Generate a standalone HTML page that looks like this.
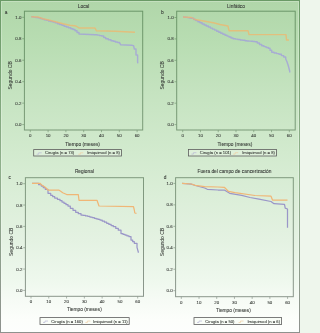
<!DOCTYPE html><html><head><meta charset="utf-8"><style>html,body{margin:0;padding:0;width:300px;height:333px;overflow:hidden;background:#eef6ec}svg{display:block}</style></head><body>
<svg width="300" height="333" viewBox="0 0 300 333" font-family='"Liberation Sans", sans-serif'>
<defs><linearGradient id="bg" x1="0" y1="0" x2="0" y2="1"><stop offset="0" stop-color="rgb(176,214,169)"/><stop offset="0.126" stop-color="rgb(184,221,178)"/><stop offset="0.276" stop-color="rgb(197,227,192)"/><stop offset="0.456" stop-color="rgb(210,234,206)"/><stop offset="0.72" stop-color="rgb(228,242,226)"/><stop offset="0.84" stop-color="rgb(238,248,237)"/><stop offset="0.9" stop-color="rgb(246,251,245)"/><stop offset="0.96" stop-color="rgb(252,254,251)"/><stop offset="1" stop-color="rgb(253,254,253)"/></linearGradient><linearGradient id="fr" gradientUnits="userSpaceOnUse" x1="0" y1="0" x2="0" y2="333"><stop offset="0" stop-color="#699666"/><stop offset="0.45" stop-color="#7c9a7a"/><stop offset="1" stop-color="#8e9490"/></linearGradient><linearGradient id="bd" x1="0" y1="0" x2="0" y2="1"><stop offset="0" stop-color="#6a9a66"/><stop offset="0.5" stop-color="#90b08c"/><stop offset="1" stop-color="#8e928e"/></linearGradient><filter id="bl" x="-5%" y="-5%" width="110%" height="110%"><feGaussianBlur stdDeviation="0.35"/></filter><filter id="bf" x="-5%" y="-5%" width="110%" height="110%"><feGaussianBlur stdDeviation="0.22"/></filter><filter id="bt" x="-5%" y="-5%" width="110%" height="110%"><feGaussianBlur stdDeviation="0.18"/></filter></defs>
<rect x="0" y="0" width="300" height="333" fill="url(#bg)"/>
<rect x="0.5" y="0.5" width="299" height="332" fill="none" stroke="url(#bd)" stroke-width="1"/>
<rect x="1.5" y="1.5" width="297" height="330" fill="none" stroke="#ffffff" stroke-opacity="0.25" stroke-width="1"/>
<g filter="url(#bl)">
<polyline points="36.70,154.20 38.70,154.20 38.70,152.80 41.70,152.80" fill="none" stroke="#9a96c8" stroke-opacity="0.7" stroke-width="1.0"/>
<polyline points="78.30,154.20 80.30,154.20 80.30,152.80 83.30,152.80" fill="none" stroke="#f0b676" stroke-opacity="0.7" stroke-width="1.0"/>
<polyline points="31.3,16.7 33.5,16.7 33.5,17.1 35.8,17.1 35.8,17.4 38.0,17.4 38.0,17.8 40.1,17.8 40.1,18.4 42.1,18.4 42.1,19.1 44.2,19.1 44.2,19.7 46.3,19.7 46.3,20.3 48.5,20.3 48.5,20.9 50.8,20.9 50.8,21.4 53.0,21.4 53.0,22.0 55.2,22.0 55.2,22.8 57.5,22.8 57.5,23.7 59.7,23.7 59.7,24.5 61.9,24.5 61.9,25.3 64.1,25.3 64.1,26.2 66.3,26.2 66.3,27.0 68.5,27.0 68.5,27.8 70.8,27.8 70.8,28.7 73.0,28.7 73.0,29.5 75.0,29.5 75.0,30.7 77.0,30.7 77.0,32.4 79.0,32.4 79.0,34.0 95.0,34.7 97.2,34.7 97.2,35.1 99.5,35.1 99.5,35.6 101.7,35.6 101.7,36.0 103.7,36.0 103.7,37.4 105.7,37.4 105.7,38.7 108.3,38.7 108.3,39.7 111.0,39.7 111.0,40.7 113.2,40.7 113.2,41.3 115.3,41.3 115.3,41.9 117.4,41.9 117.4,42.4 119.6,42.4 119.6,43.0 120.8,44.8 131.6,45.2 133.6,45.6 134.3,49.0 136.0,49.0 136.0,55.0 137.6,55.0 137.6,62.0 137.8,63.4" fill="none" stroke="#a09ade" stroke-opacity="0.72" stroke-width="1.45" stroke-linejoin="round"/>
<polyline points="31.3,16.7 38.0,17.0 43.0,18.7 49.7,20.3 56.3,22.0 63.0,23.7 69.7,25.3 76.0,26.0 79.0,28.0 95.0,28.0 96.3,30.7 115.0,31.3 135.0,32.2" fill="none" stroke="#f2b46a" stroke-opacity="0.72" stroke-width="1.45" stroke-linejoin="round"/>
<polyline points="191.40,154.10 193.40,154.10 193.40,152.70 196.40,152.70" fill="none" stroke="#9a96c8" stroke-opacity="0.7" stroke-width="1.0"/>
<polyline points="233.16,154.10 235.16,154.10 235.16,152.70 238.16,152.70" fill="none" stroke="#f0b676" stroke-opacity="0.7" stroke-width="1.0"/>
<polyline points="183.0,17.0 185.2,17.0 185.2,17.3 187.3,17.3 187.3,17.6 189.5,17.6 189.5,18.0 191.7,18.0 191.7,18.3 193.8,18.3 193.8,19.4 195.8,19.4 195.8,20.6 197.9,20.6 197.9,21.7 200.0,21.7 200.0,22.8 202.1,22.8 202.1,23.9 204.2,23.9 204.2,24.9 206.2,24.9 206.2,25.9 208.3,25.9 208.3,27.0 210.4,27.0 210.4,28.1 212.5,28.1 212.5,29.1 214.6,29.1 214.6,30.1 216.7,30.1 216.7,31.2 218.8,31.2 218.8,32.2 220.8,32.2 220.8,33.2 222.9,33.2 222.9,34.3 225.0,34.3 225.0,35.3 227.0,35.3 227.0,36.1 229.0,36.1 229.0,37.0 231.0,37.0 231.0,37.9 233.0,37.9 233.0,38.7 235.4,38.7 235.4,39.1 237.8,39.1 237.8,39.5 240.2,39.5 240.2,39.9 242.6,39.9 242.6,40.3 245.0,40.3 245.0,40.7 247.0,40.7 247.0,40.9 249.0,40.9 249.0,41.1 251.0,41.1 251.0,41.3 253.0,41.3 253.0,41.5 255.0,41.5 255.0,41.7 257.2,41.7 257.2,43.0 259.5,43.0 259.5,44.4 261.7,44.4 261.7,45.7 263.9,45.7 263.9,46.6 266.1,46.6 266.1,47.4 268.3,47.4 268.3,48.3 270.0,48.3 270.0,50.3 271.7,50.3 271.7,52.3 274.1,52.3 274.1,53.0 276.6,53.0 276.6,53.6 279.0,53.6 279.0,54.3 281.4,54.3 281.4,55.6 283.7,55.6 283.7,57.0 285.7,57.0 285.7,59.0 287.0,61.7 288.3,65.7 289.7,71.0 289.7,72.5" fill="none" stroke="#a09ade" stroke-opacity="0.72" stroke-width="1.45" stroke-linejoin="round"/>
<polyline points="183.0,17.0 191.7,17.5 195.0,19.5 205.0,21.2 213.3,22.8 220.0,24.5 228.0,26.0 229.0,30.7 248.0,30.7 249.0,34.6 286.0,34.6 286.5,40.0 289.0,40.0" fill="none" stroke="#f2b46a" stroke-opacity="0.72" stroke-width="1.45" stroke-linejoin="round"/>
<polyline points="43.00,322.45 45.00,322.45 45.00,321.05 48.00,321.05" fill="none" stroke="#9a96c8" stroke-opacity="0.7" stroke-width="1.0"/>
<polyline points="85.38,322.45 87.38,322.45 87.38,321.05 90.38,321.05" fill="none" stroke="#f0b676" stroke-opacity="0.7" stroke-width="1.0"/>
<polyline points="32.0,183.3 36.0,183.3 38.6,183.3 38.6,184.7 41.3,184.7 41.3,186.0 43.3,186.0 43.3,187.7 45.3,187.7 45.3,189.3 48.0,189.3 48.0,193.3 50.7,193.3 50.7,195.3 52.7,195.3 52.7,196.7 54.7,196.7 54.7,198.0 57.4,198.0 57.4,199.3 60.0,199.3 60.0,200.7 62.0,200.7 62.0,202.0 64.0,202.0 64.0,203.3 66.0,203.3 66.0,204.7 68.0,204.7 68.0,206.0 70.3,206.0 70.3,208.3 73.0,208.3 73.0,210.3 75.7,210.3 75.7,212.3 78.3,212.3 78.3,213.7 81.0,213.7 81.0,215.0 83.2,215.0 83.2,215.4 85.5,215.4 85.5,215.9 87.7,215.9 87.7,216.3 89.9,216.3 89.9,217.0 92.1,217.0 92.1,217.6 94.3,217.6 94.3,218.3 96.2,218.3 96.2,218.9 98.1,218.9 98.1,219.4 100.0,219.4 100.0,220.0 102.2,220.0 102.2,221.1 104.5,221.1 104.5,222.2 106.7,222.2 106.7,223.3 108.9,223.3 108.9,224.4 111.1,224.4 111.1,225.6 113.3,225.6 113.3,226.7 115.8,226.7 115.8,228.4 118.3,228.4 118.3,230.2 121.0,230.2 121.0,233.5 123.0,233.5 123.0,234.3 125.0,234.3 125.0,235.1 127.0,235.1 127.0,235.9 129.0,235.9 129.0,236.7 131.0,236.7 131.0,240.0 132.7,240.0 132.7,241.7 134.3,241.7 134.3,243.3 137.0,243.3 137.0,247.3 138.3,252.0 138.3,252.7" fill="none" stroke="#9a96c8" stroke-opacity="1.0" stroke-width="1.25" stroke-linejoin="round"/>
<polyline points="32.0,183.3 40.0,183.3 41.3,184.7 43.3,186.0 45.3,187.3 48.0,190.0 58.7,190.0 60.7,191.3 62.7,192.7 66.7,194.5 78.3,194.5 79.0,200.3 97.0,200.3 99.0,206.0 133.5,206.6 134.3,210.0 134.8,213.0 136.5,213.3" fill="none" stroke="#f0b676" stroke-opacity="1.0" stroke-width="1.25" stroke-linejoin="round"/>
<polyline points="197.00,322.45 199.00,322.45 199.00,321.05 202.00,321.05" fill="none" stroke="#9a96c8" stroke-opacity="0.7" stroke-width="1.0"/>
<polyline points="238.55,322.45 240.55,322.45 240.55,321.05 243.55,321.05" fill="none" stroke="#f0b676" stroke-opacity="0.7" stroke-width="1.0"/>
<polyline points="182.0,183.3 191.3,184.2 195.3,185.5 204.7,188.0 207.3,189.3 218.0,190.0 224.3,190.0 229.7,193.3 241.7,195.3 250.0,197.5 259.0,199.2 271.0,201.5 274.0,203.7 284.5,204.3 285.2,208.2 287.5,209.0 287.5,227.7" fill="none" stroke="#9a96c8" stroke-opacity="1.0" stroke-width="1.25" stroke-linejoin="round"/>
<polyline points="182.0,183.3 191.3,184.0 195.3,185.3 204.7,186.7 218.0,187.0 224.3,187.3 228.3,191.3 235.0,192.7 255.0,195.5 271.0,196.2 272.5,200.0 287.5,200.0" fill="none" stroke="#f0b676" stroke-opacity="1.0" stroke-width="1.25" stroke-linejoin="round"/>
</g>
<g filter="url(#bf)">
<rect x="24.40" y="11.20" width="118.30" height="118.80" fill="none" stroke="url(#fr)" stroke-width="1.0"/>
<line x1="22.20" y1="124.60" x2="24.40" y2="124.60" stroke="url(#fr)" stroke-width="0.7"/>
<line x1="22.20" y1="103.14" x2="24.40" y2="103.14" stroke="url(#fr)" stroke-width="0.7"/>
<line x1="22.20" y1="81.68" x2="24.40" y2="81.68" stroke="url(#fr)" stroke-width="0.7"/>
<line x1="22.20" y1="60.22" x2="24.40" y2="60.22" stroke="url(#fr)" stroke-width="0.7"/>
<line x1="22.20" y1="38.76" x2="24.40" y2="38.76" stroke="url(#fr)" stroke-width="0.7"/>
<line x1="22.20" y1="17.30" x2="24.40" y2="17.30" stroke="url(#fr)" stroke-width="0.7"/>
<line x1="30.30" y1="130.00" x2="30.30" y2="132.20" stroke="url(#fr)" stroke-width="0.7"/>
<line x1="48.10" y1="130.00" x2="48.10" y2="132.20" stroke="url(#fr)" stroke-width="0.7"/>
<line x1="65.90" y1="130.00" x2="65.90" y2="132.20" stroke="url(#fr)" stroke-width="0.7"/>
<line x1="83.70" y1="130.00" x2="83.70" y2="132.20" stroke="url(#fr)" stroke-width="0.7"/>
<line x1="101.50" y1="130.00" x2="101.50" y2="132.20" stroke="url(#fr)" stroke-width="0.7"/>
<line x1="119.30" y1="130.00" x2="119.30" y2="132.20" stroke="url(#fr)" stroke-width="0.7"/>
<line x1="137.10" y1="130.00" x2="137.10" y2="132.20" stroke="url(#fr)" stroke-width="0.7"/>
<rect x="33.70" y="149.60" width="87.70" height="6.40" fill="#f4f8f2" fill-opacity="0.35" stroke="#5c5c5c" stroke-width="0.8"/>
<rect x="176.70" y="11.20" width="118.50" height="118.80" fill="none" stroke="url(#fr)" stroke-width="1.0"/>
<line x1="174.50" y1="124.60" x2="176.70" y2="124.60" stroke="url(#fr)" stroke-width="0.7"/>
<line x1="174.50" y1="103.18" x2="176.70" y2="103.18" stroke="url(#fr)" stroke-width="0.7"/>
<line x1="174.50" y1="81.76" x2="176.70" y2="81.76" stroke="url(#fr)" stroke-width="0.7"/>
<line x1="174.50" y1="60.34" x2="176.70" y2="60.34" stroke="url(#fr)" stroke-width="0.7"/>
<line x1="174.50" y1="38.92" x2="176.70" y2="38.92" stroke="url(#fr)" stroke-width="0.7"/>
<line x1="174.50" y1="17.50" x2="176.70" y2="17.50" stroke="url(#fr)" stroke-width="0.7"/>
<line x1="182.70" y1="130.00" x2="182.70" y2="132.20" stroke="url(#fr)" stroke-width="0.7"/>
<line x1="200.47" y1="130.00" x2="200.47" y2="132.20" stroke="url(#fr)" stroke-width="0.7"/>
<line x1="218.23" y1="130.00" x2="218.23" y2="132.20" stroke="url(#fr)" stroke-width="0.7"/>
<line x1="236.00" y1="130.00" x2="236.00" y2="132.20" stroke="url(#fr)" stroke-width="0.7"/>
<line x1="253.77" y1="130.00" x2="253.77" y2="132.20" stroke="url(#fr)" stroke-width="0.7"/>
<line x1="271.53" y1="130.00" x2="271.53" y2="132.20" stroke="url(#fr)" stroke-width="0.7"/>
<line x1="289.30" y1="130.00" x2="289.30" y2="132.20" stroke="url(#fr)" stroke-width="0.7"/>
<rect x="188.40" y="149.40" width="88.00" height="6.60" fill="#f4f8f2" fill-opacity="0.35" stroke="#5c5c5c" stroke-width="0.8"/>
<rect x="25.40" y="177.70" width="118.10" height="118.60" fill="none" stroke="url(#fr)" stroke-width="1.0"/>
<line x1="23.20" y1="290.40" x2="25.40" y2="290.40" stroke="url(#fr)" stroke-width="0.7"/>
<line x1="23.20" y1="269.06" x2="25.40" y2="269.06" stroke="url(#fr)" stroke-width="0.7"/>
<line x1="23.20" y1="247.72" x2="25.40" y2="247.72" stroke="url(#fr)" stroke-width="0.7"/>
<line x1="23.20" y1="226.38" x2="25.40" y2="226.38" stroke="url(#fr)" stroke-width="0.7"/>
<line x1="23.20" y1="205.04" x2="25.40" y2="205.04" stroke="url(#fr)" stroke-width="0.7"/>
<line x1="23.20" y1="183.70" x2="25.40" y2="183.70" stroke="url(#fr)" stroke-width="0.7"/>
<line x1="31.00" y1="296.30" x2="31.00" y2="298.50" stroke="url(#fr)" stroke-width="0.7"/>
<line x1="48.78" y1="296.30" x2="48.78" y2="298.50" stroke="url(#fr)" stroke-width="0.7"/>
<line x1="66.57" y1="296.30" x2="66.57" y2="298.50" stroke="url(#fr)" stroke-width="0.7"/>
<line x1="84.35" y1="296.30" x2="84.35" y2="298.50" stroke="url(#fr)" stroke-width="0.7"/>
<line x1="102.13" y1="296.30" x2="102.13" y2="298.50" stroke="url(#fr)" stroke-width="0.7"/>
<line x1="119.92" y1="296.30" x2="119.92" y2="298.50" stroke="url(#fr)" stroke-width="0.7"/>
<line x1="137.70" y1="296.30" x2="137.70" y2="298.50" stroke="url(#fr)" stroke-width="0.7"/>
<rect x="40.00" y="317.60" width="89.20" height="6.90" fill="#f4f8f2" fill-opacity="0.35" stroke="#5c5c5c" stroke-width="0.8"/>
<rect x="175.60" y="177.70" width="117.70" height="119.00" fill="none" stroke="url(#fr)" stroke-width="1.0"/>
<line x1="173.40" y1="290.70" x2="175.60" y2="290.70" stroke="url(#fr)" stroke-width="0.7"/>
<line x1="173.40" y1="269.24" x2="175.60" y2="269.24" stroke="url(#fr)" stroke-width="0.7"/>
<line x1="173.40" y1="247.78" x2="175.60" y2="247.78" stroke="url(#fr)" stroke-width="0.7"/>
<line x1="173.40" y1="226.32" x2="175.60" y2="226.32" stroke="url(#fr)" stroke-width="0.7"/>
<line x1="173.40" y1="204.86" x2="175.60" y2="204.86" stroke="url(#fr)" stroke-width="0.7"/>
<line x1="173.40" y1="183.40" x2="175.60" y2="183.40" stroke="url(#fr)" stroke-width="0.7"/>
<line x1="181.30" y1="296.70" x2="181.30" y2="298.90" stroke="url(#fr)" stroke-width="0.7"/>
<line x1="199.02" y1="296.70" x2="199.02" y2="298.90" stroke="url(#fr)" stroke-width="0.7"/>
<line x1="216.73" y1="296.70" x2="216.73" y2="298.90" stroke="url(#fr)" stroke-width="0.7"/>
<line x1="234.45" y1="296.70" x2="234.45" y2="298.90" stroke="url(#fr)" stroke-width="0.7"/>
<line x1="252.17" y1="296.70" x2="252.17" y2="298.90" stroke="url(#fr)" stroke-width="0.7"/>
<line x1="269.88" y1="296.70" x2="269.88" y2="298.90" stroke="url(#fr)" stroke-width="0.7"/>
<line x1="287.60" y1="296.70" x2="287.60" y2="298.90" stroke="url(#fr)" stroke-width="0.7"/>
<rect x="194.00" y="317.60" width="87.60" height="6.90" fill="#f4f8f2" fill-opacity="0.35" stroke="#5c5c5c" stroke-width="0.8"/>
</g>
<g filter="url(#bt)">
<text x="21.40" y="126.15" font-size="4.4" fill="#363a36" stroke="#363a36" stroke-width="0.08" text-anchor="end">0.0</text>
<text x="21.40" y="104.69" font-size="4.4" fill="#363a36" stroke="#363a36" stroke-width="0.08" text-anchor="end">0.2</text>
<text x="21.40" y="83.23" font-size="4.4" fill="#363a36" stroke="#363a36" stroke-width="0.08" text-anchor="end">0.4</text>
<text x="21.40" y="61.77" font-size="4.4" fill="#363a36" stroke="#363a36" stroke-width="0.08" text-anchor="end">0.6</text>
<text x="21.40" y="40.31" font-size="4.4" fill="#363a36" stroke="#363a36" stroke-width="0.08" text-anchor="end">0.8</text>
<text x="21.40" y="18.85" font-size="4.4" fill="#363a36" stroke="#363a36" stroke-width="0.08" text-anchor="end">1.0</text>
<text x="30.30" y="136.80" font-size="4.4" fill="#363a36" stroke="#363a36" stroke-width="0.08" text-anchor="middle">0</text>
<text x="48.10" y="136.80" font-size="4.4" fill="#363a36" stroke="#363a36" stroke-width="0.08" text-anchor="middle">10</text>
<text x="65.90" y="136.80" font-size="4.4" fill="#363a36" stroke="#363a36" stroke-width="0.08" text-anchor="middle">20</text>
<text x="83.70" y="136.80" font-size="4.4" fill="#363a36" stroke="#363a36" stroke-width="0.08" text-anchor="middle">30</text>
<text x="101.50" y="136.80" font-size="4.4" fill="#363a36" stroke="#363a36" stroke-width="0.08" text-anchor="middle">40</text>
<text x="119.30" y="136.80" font-size="4.4" fill="#363a36" stroke="#363a36" stroke-width="0.08" text-anchor="middle">50</text>
<text x="137.10" y="136.80" font-size="4.4" fill="#363a36" stroke="#363a36" stroke-width="0.08" text-anchor="middle">60</text>
<text x="6.20" y="13.70" font-size="4.8" fill="#363a36" stroke="#363a36" stroke-width="0.08" text-anchor="middle">a</text>
<text x="83.55" y="7.80" font-size="4.85" fill="#363a36" stroke="#363a36" stroke-width="0.08" text-anchor="middle">Local</text>
<text x="82.55" y="145.90" font-size="4.85" fill="#363a36" stroke="#363a36" stroke-width="0.08" text-anchor="middle">Tiempo (meses)</text>
<text x="0" y="0" transform="translate(11.50,75.40) rotate(-90)" font-size="5.0" fill="#363a36" stroke="#363a36" stroke-width="0.08" text-anchor="middle">Segundo CB</text>
<text x="45.00" y="154.30" font-size="4.2" fill="#363a36" stroke="#363a36" stroke-width="0.08">Cirugía (n = 73)</text>
<text x="119.90" y="154.30" font-size="4.2" fill="#363a36" stroke="#363a36" stroke-width="0.08" text-anchor="end">Imiquimod (n = 8)</text>
<text x="173.70" y="126.15" font-size="4.4" fill="#363a36" stroke="#363a36" stroke-width="0.08" text-anchor="end">0.0</text>
<text x="173.70" y="104.73" font-size="4.4" fill="#363a36" stroke="#363a36" stroke-width="0.08" text-anchor="end">0.2</text>
<text x="173.70" y="83.31" font-size="4.4" fill="#363a36" stroke="#363a36" stroke-width="0.08" text-anchor="end">0.4</text>
<text x="173.70" y="61.89" font-size="4.4" fill="#363a36" stroke="#363a36" stroke-width="0.08" text-anchor="end">0.6</text>
<text x="173.70" y="40.47" font-size="4.4" fill="#363a36" stroke="#363a36" stroke-width="0.08" text-anchor="end">0.8</text>
<text x="173.70" y="19.05" font-size="4.4" fill="#363a36" stroke="#363a36" stroke-width="0.08" text-anchor="end">1.0</text>
<text x="182.70" y="136.80" font-size="4.4" fill="#363a36" stroke="#363a36" stroke-width="0.08" text-anchor="middle">0</text>
<text x="200.47" y="136.80" font-size="4.4" fill="#363a36" stroke="#363a36" stroke-width="0.08" text-anchor="middle">10</text>
<text x="218.23" y="136.80" font-size="4.4" fill="#363a36" stroke="#363a36" stroke-width="0.08" text-anchor="middle">20</text>
<text x="236.00" y="136.80" font-size="4.4" fill="#363a36" stroke="#363a36" stroke-width="0.08" text-anchor="middle">30</text>
<text x="253.77" y="136.80" font-size="4.4" fill="#363a36" stroke="#363a36" stroke-width="0.08" text-anchor="middle">40</text>
<text x="271.53" y="136.80" font-size="4.4" fill="#363a36" stroke="#363a36" stroke-width="0.08" text-anchor="middle">50</text>
<text x="289.30" y="136.80" font-size="4.4" fill="#363a36" stroke="#363a36" stroke-width="0.08" text-anchor="middle">60</text>
<text x="162.30" y="13.70" font-size="4.8" fill="#363a36" stroke="#363a36" stroke-width="0.08" text-anchor="middle">b</text>
<text x="235.95" y="7.80" font-size="4.85" fill="#363a36" stroke="#363a36" stroke-width="0.08" text-anchor="middle">Linfático</text>
<text x="234.95" y="145.90" font-size="4.85" fill="#363a36" stroke="#363a36" stroke-width="0.08" text-anchor="middle">Tiempo (meses)</text>
<text x="0" y="0" transform="translate(163.80,75.40) rotate(-90)" font-size="5.0" fill="#363a36" stroke="#363a36" stroke-width="0.08" text-anchor="middle">Segundo CB</text>
<text x="199.70" y="154.20" font-size="4.2" fill="#363a36" stroke="#363a36" stroke-width="0.08">Cirugía (n = 101)</text>
<text x="274.90" y="154.20" font-size="4.2" fill="#363a36" stroke="#363a36" stroke-width="0.08" text-anchor="end">Imiquimod (n = 8)</text>
<text x="22.40" y="291.95" font-size="4.4" fill="#363a36" stroke="#363a36" stroke-width="0.08" text-anchor="end">0.0</text>
<text x="22.40" y="270.61" font-size="4.4" fill="#363a36" stroke="#363a36" stroke-width="0.08" text-anchor="end">0.2</text>
<text x="22.40" y="249.27" font-size="4.4" fill="#363a36" stroke="#363a36" stroke-width="0.08" text-anchor="end">0.4</text>
<text x="22.40" y="227.93" font-size="4.4" fill="#363a36" stroke="#363a36" stroke-width="0.08" text-anchor="end">0.6</text>
<text x="22.40" y="206.59" font-size="4.4" fill="#363a36" stroke="#363a36" stroke-width="0.08" text-anchor="end">0.8</text>
<text x="22.40" y="185.25" font-size="4.4" fill="#363a36" stroke="#363a36" stroke-width="0.08" text-anchor="end">1.0</text>
<text x="31.00" y="303.10" font-size="4.4" fill="#363a36" stroke="#363a36" stroke-width="0.08" text-anchor="middle">0</text>
<text x="48.78" y="303.10" font-size="4.4" fill="#363a36" stroke="#363a36" stroke-width="0.08" text-anchor="middle">10</text>
<text x="66.57" y="303.10" font-size="4.4" fill="#363a36" stroke="#363a36" stroke-width="0.08" text-anchor="middle">20</text>
<text x="84.35" y="303.10" font-size="4.4" fill="#363a36" stroke="#363a36" stroke-width="0.08" text-anchor="middle">30</text>
<text x="102.13" y="303.10" font-size="4.4" fill="#363a36" stroke="#363a36" stroke-width="0.08" text-anchor="middle">40</text>
<text x="119.92" y="303.10" font-size="4.4" fill="#363a36" stroke="#363a36" stroke-width="0.08" text-anchor="middle">50</text>
<text x="137.70" y="303.10" font-size="4.4" fill="#363a36" stroke="#363a36" stroke-width="0.08" text-anchor="middle">60</text>
<text x="9.60" y="179.40" font-size="4.8" fill="#363a36" stroke="#363a36" stroke-width="0.08" text-anchor="middle">c</text>
<text x="84.45" y="173.30" font-size="4.85" fill="#363a36" stroke="#363a36" stroke-width="0.08" text-anchor="middle">Regional</text>
<text x="84.35" y="311.30" font-size="4.85" fill="#363a36" stroke="#363a36" stroke-width="0.08" text-anchor="middle">Tiempo (meses)</text>
<text x="0" y="0" transform="translate(12.90,241.80) rotate(-90)" font-size="5.0" fill="#363a36" stroke="#363a36" stroke-width="0.08" text-anchor="middle">Segundo CB</text>
<text x="51.30" y="322.55" font-size="4.2" fill="#363a36" stroke="#363a36" stroke-width="0.08">Cirugía (n = 160)</text>
<text x="127.70" y="322.55" font-size="4.2" fill="#363a36" stroke="#363a36" stroke-width="0.08" text-anchor="end">Imiquimod (n = 11)</text>
<text x="172.60" y="292.25" font-size="4.4" fill="#363a36" stroke="#363a36" stroke-width="0.08" text-anchor="end">0.0</text>
<text x="172.60" y="270.79" font-size="4.4" fill="#363a36" stroke="#363a36" stroke-width="0.08" text-anchor="end">0.2</text>
<text x="172.60" y="249.33" font-size="4.4" fill="#363a36" stroke="#363a36" stroke-width="0.08" text-anchor="end">0.4</text>
<text x="172.60" y="227.87" font-size="4.4" fill="#363a36" stroke="#363a36" stroke-width="0.08" text-anchor="end">0.6</text>
<text x="172.60" y="206.41" font-size="4.4" fill="#363a36" stroke="#363a36" stroke-width="0.08" text-anchor="end">0.8</text>
<text x="172.60" y="184.95" font-size="4.4" fill="#363a36" stroke="#363a36" stroke-width="0.08" text-anchor="end">1.0</text>
<text x="181.30" y="303.50" font-size="4.4" fill="#363a36" stroke="#363a36" stroke-width="0.08" text-anchor="middle">0</text>
<text x="199.02" y="303.50" font-size="4.4" fill="#363a36" stroke="#363a36" stroke-width="0.08" text-anchor="middle">10</text>
<text x="216.73" y="303.50" font-size="4.4" fill="#363a36" stroke="#363a36" stroke-width="0.08" text-anchor="middle">20</text>
<text x="234.45" y="303.50" font-size="4.4" fill="#363a36" stroke="#363a36" stroke-width="0.08" text-anchor="middle">30</text>
<text x="252.17" y="303.50" font-size="4.4" fill="#363a36" stroke="#363a36" stroke-width="0.08" text-anchor="middle">40</text>
<text x="269.88" y="303.50" font-size="4.4" fill="#363a36" stroke="#363a36" stroke-width="0.08" text-anchor="middle">50</text>
<text x="287.60" y="303.50" font-size="4.4" fill="#363a36" stroke="#363a36" stroke-width="0.08" text-anchor="middle">60</text>
<text x="165.00" y="178.50" font-size="4.8" fill="#363a36" stroke="#363a36" stroke-width="0.08" text-anchor="middle">d</text>
<text x="234.45" y="173.30" font-size="4.85" fill="#363a36" stroke="#363a36" stroke-width="0.08" text-anchor="middle">Fuera del campo de cancerización</text>
<text x="233.45" y="311.70" font-size="4.85" fill="#363a36" stroke="#363a36" stroke-width="0.08" text-anchor="middle">Tiempo (meses)</text>
<text x="0" y="0" transform="translate(163.70,242.00) rotate(-90)" font-size="5.0" fill="#363a36" stroke="#363a36" stroke-width="0.08" text-anchor="middle">Segundo CB</text>
<text x="205.30" y="322.55" font-size="4.2" fill="#363a36" stroke="#363a36" stroke-width="0.08">Cirugía (n = 50)</text>
<text x="280.10" y="322.55" font-size="4.2" fill="#363a36" stroke="#363a36" stroke-width="0.08" text-anchor="end">Imiquimod (n = 6)</text>
</g></svg></body></html>
